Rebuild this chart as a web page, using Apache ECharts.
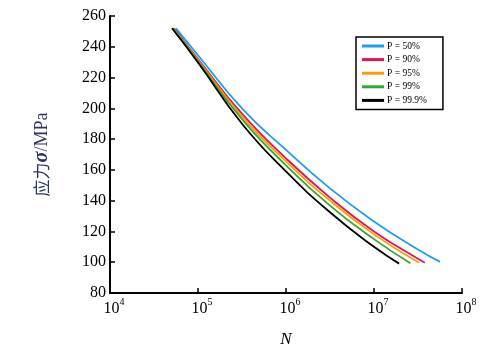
<!DOCTYPE html>
<html><head><meta charset="utf-8">
<script src="https://cdn.jsdelivr.net/npm/echarts@6/dist/echarts.min.js"></script>
<style>html,body{margin:0;padding:0;background:#fff}#c{width:501px;height:353px}</style>
</head><body><div id="c"></div>
<script>
// Series names
const seriesNames = ['P = 50%', 'P = 90%', 'P = 95%', 'P = 99%', 'P = 99.9%'];
const seriesColors = ['#1a9ff0', '#e8124a', '#f5a000', '#30a835', '#000000'];
// Cycles N and stress (MPa)
const nBlue   = [5.62e4, 1e5, 3.16e5, 1e6,   3.16e6, 1e7,   3.16e7, 5.62e7];
const sBlue   = [252,    234.5, 200,  173,   148,    126.5, 108.2,  100.2];
const nRed    = [5.33e4, 1e5, 3.16e5, 1e6,   3.16e6, 1e7,   3.16e7, 3.78e7];
const sRed    = [252,    232, 196.5,  167.5, 142,    120,   102.2,  99.7];
const nOrange = [5.19e4, 1e5,   3.16e5, 1e6,   3.16e6, 1e7,   3.25e7];
const sOrange = [252,    231.2, 194.8,  165.5, 140,    118.1, 99.6];
const nGreen  = [5.19e4, 1e5,   3.16e5, 1e6, 3.16e6, 1e7, 2.59e7];
const sGreen  = [252,    230.5, 193,    163, 136.8,  115, 99.4];
const nBlack  = [5.06e4, 1e5,   3.16e5, 1e6, 3.16e6, 1e7, 1.93e7];
const sBlack  = [252,    229.8, 190,    159, 132.5,  110, 99.1];
// Axis ticks
const xExponents = [4, 5, 6, 7, 8];
const yTicks = [80, 100, 120, 140, 160, 180, 200, 220, 240, 260];

const allN = [nBlue, nRed, nOrange, nGreen, nBlack];
const allS = [sBlue, sRed, sOrange, sGreen, sBlack];
const serif = '"Liberation Serif", "Times New Roman", serif';

const chart = echarts.init(document.getElementById('c'), null, {renderer: 'canvas'});
chart.setOption({
  animation: false,
  backgroundColor: '#fff',
  grid: {left: 110, right: 39, top: 16, bottom: 59, containLabel: false},
  legend: {
    orient: 'vertical', left: 356, top: 37,
    data: seriesNames,
    icon: 'rect', itemWidth: 22, itemHeight: 3, itemGap: 1.6,
    borderColor: '#000', borderWidth: 1.5, padding: [3, 16, 3, 6],
    textStyle: {fontFamily: serif, fontSize: 9.5, color: '#000', lineHeight: 12, padding: [0, 0, 0, -2]}
  },
  xAxis: {
    type: 'log', logBase: 10, min: Math.pow(10, xExponents[0]), max: Math.pow(10, xExponents[xExponents.length - 1]),
    name: 'N', nameLocation: 'middle', nameGap: 38,
    nameTextStyle: {fontFamily: serif, fontSize: 17, fontStyle: 'italic', color: '#000'},
    axisLine: {lineStyle: {color: '#000', width: 2}},
    axisTick: {inside: true, length: 5, lineStyle: {width: 1.5, color: '#000'}},
    minorTick: {show: false},
    splitLine: {show: false},
    axisLabel: {
      margin: 4,
      formatter: function (v) {
        const e = Math.round(Math.log10(v));
        return '{b|10}{s|' + e + '}';
      },
      rich: {
        b: {fontFamily: serif, fontSize: 16, color: '#000', lineHeight: 20, verticalAlign: 'bottom', padding: [0, 0, 0, 8]},
        s: {fontFamily: serif, fontSize: 10, color: '#000', lineHeight: 12, verticalAlign: 'top'}
      }
    }
  },
  yAxis: {
    type: 'value', min: yTicks[0], max: yTicks[yTicks.length - 1], interval: 20,
    name: '{a|应力}{g|σ}{m|/MPa}', nameLocation: 'middle', nameRotate: 90, nameGap: 58,
    nameTextStyle: {
      rich: {
        a: {fontFamily: '"Noto Sans CJK SC", ' + serif, fontSize: 17, color: '#2a3560'},
        g: {fontFamily: serif, fontSize: 20, fontWeight: 'bold', fontStyle: 'italic', color: '#2a3560'},
        m: {fontFamily: serif, fontSize: 18, color: '#2a3560'}
      }
    },
    axisLine: {show: true, lineStyle: {color: '#000', width: 2}},
    axisTick: {show: true, inside: true, length: 5, lineStyle: {width: 1.5, color: '#000'}},
    splitLine: {show: false},
    axisLabel: {fontFamily: serif, fontSize: 16, color: '#000', margin: 4}
  },
  series: seriesNames.map((name, i) => ({
    name: name, type: 'line', smooth: 0.5, showSymbol: false,
    data: allN[i].map((n, j) => [n, allS[i][j]]),
    lineStyle: {color: seriesColors[i], width: 1.8},
    itemStyle: {color: seriesColors[i]}
  }))
});
</script></body></html>
